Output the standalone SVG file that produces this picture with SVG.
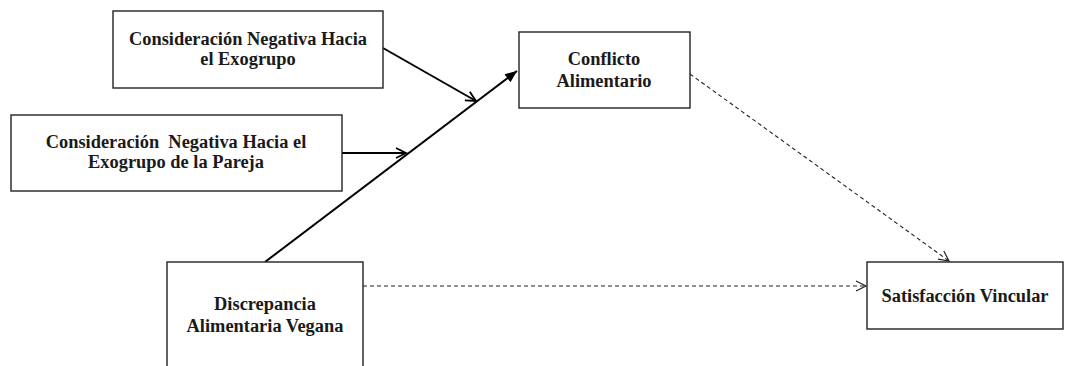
<svg xmlns="http://www.w3.org/2000/svg" width="1070" height="366" viewBox="0 0 1070 366">
<defs>
<style>
.box{fill:#fff;stroke:#222;stroke-width:1.4}
.lbl{font-family:"Liberation Serif","Times New Roman",serif;font-weight:bold;font-size:18.4px;fill:#1a1a1a;text-anchor:middle;white-space:pre}
.solid{stroke:#000;stroke-width:2;fill:none}
.dash{stroke:#222;stroke-width:1.1;fill:none;stroke-dasharray:4 3}
</style>
<marker id="open" markerWidth="14" markerHeight="14" refX="11" refY="6" orient="auto" markerUnits="userSpaceOnUse" viewBox="0 0 14 12">
<path d="M1,1 L11,6 L1,11" fill="none" stroke="#000" stroke-width="1.8"/>
</marker>
<marker id="openthin" markerWidth="14" markerHeight="12" refX="11" refY="6" orient="auto" markerUnits="userSpaceOnUse" viewBox="0 0 14 12">
<path d="M1,1 L11,6 L1,11" fill="none" stroke="#222" stroke-width="1.2"/>
</marker>
<marker id="filled" markerWidth="14" markerHeight="12" refX="12" refY="6" orient="auto" markerUnits="userSpaceOnUse" viewBox="0 0 14 12">
<path d="M0,1 L12,6 L0,11 Z" fill="#000"/>
</marker>
</defs>
<g id="connectors">
<line class="solid" x1="383" y1="48" x2="476" y2="101" marker-end="url(#open)"/>
<line class="solid" x1="342" y1="153" x2="406" y2="153" marker-end="url(#open)"/>
<line class="solid" x1="265" y1="262" x2="517" y2="71" marker-end="url(#filled)"/>
<line class="dash" x1="363" y1="286" x2="866" y2="286" marker-end="url(#openthin)"/>
<line class="dash" x1="690" y1="74" x2="949" y2="261" marker-end="url(#openthin)"/>
</g>
<g id="node-neg-exo">
<rect class="box" x="113" y="11" width="270" height="77"/>
<text class="lbl" x="248" y="45">Consideración Negativa Hacia</text>
<text class="lbl" x="248" y="65">el Exogrupo</text>
</g>
<g id="node-neg-exo-pareja">
<rect class="box" x="11" y="115" width="331" height="76"/>
<text class="lbl" x="176" y="148" xml:space="preserve">Consideración  Negativa Hacia el</text>
<text class="lbl" x="176" y="168">Exogrupo de la Pareja</text>
</g>
<g id="node-discrepancia">
<rect class="box" x="167" y="262" width="196" height="120"/>
<text class="lbl" x="265" y="310">Discrepancia</text>
<text class="lbl" x="265" y="332">Alimentaria Vegana</text>
</g>
<g id="node-conflicto">
<rect class="box" x="519" y="32" width="171" height="76"/>
<text class="lbl" x="604" y="65">Conflicto</text>
<text class="lbl" x="604" y="87">Alimentario</text>
</g>
<g id="node-satisfaccion">
<rect class="box" x="867" y="262" width="196" height="67"/>
<text class="lbl" x="965" y="302">Satisfacción Vincular</text>
</g>
</svg>
